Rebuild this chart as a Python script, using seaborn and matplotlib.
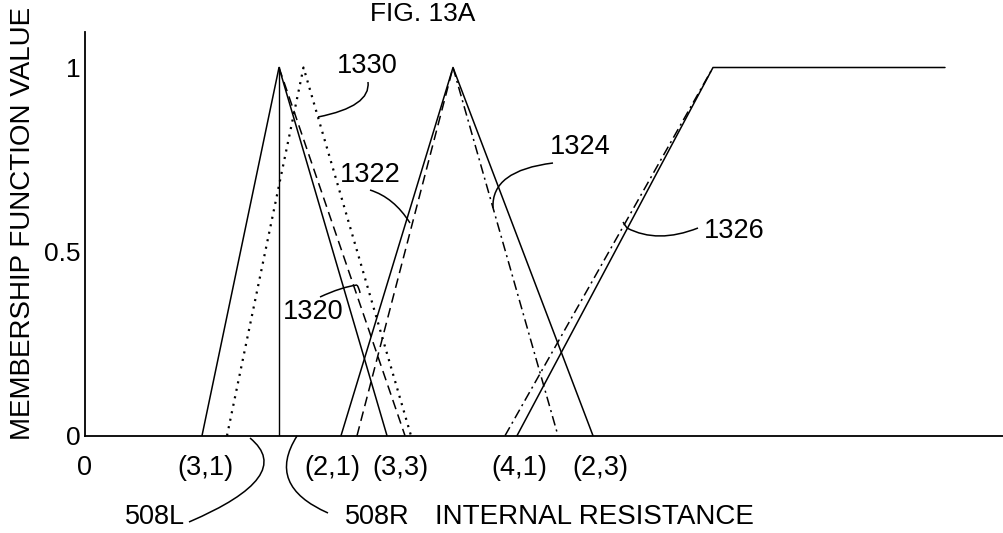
import numpy as np
import pandas as pd
import matplotlib
matplotlib.use("Agg")
from matplotlib import pyplot as plt
from matplotlib.path import Path
from matplotlib.patches import PathPatch
import seaborn as sns

sns.set_theme(style="white")
plt.rcParams["font.family"] = ["Liberation Sans", "DejaVu Sans"]
plt.rcParams["lines.scale_dashes"] = False

# membership functions (x in internal-resistance units, y = membership value)
solid_x = [[11.7, 19.4, 30.2], [25.6, 36.8, 50.8], [43.2, 62.8, 86.0]]
solid_y = [[0, 1, 0], [0, 1, 0], [0, 1, 1]]
dashed_x = [[19.4, 32.0], [27.2, 36.8]]
dashed_y = [[1, 0], [0, 1]]
dashdot_x = [[36.8, 47.3], [42.0, 62.8]]
dashdot_y = [[1, 0], [0, 1]]
dotted_x = [[14.2, 21.85, 32.6]]
dotted_y = [[0, 1, 0]]
marker_x = [19.4, 19.4]
marker_y = [0, 1]

tick_pos = [0, 12.0, 24.7, 31.5, 43.4, 51.5]
tick_lab = ["0", "(3,1)", "(2,1)", "(3,3)", "(4,1)", "(2,3)"]


def to_frame(xs, ys):
    rows = []
    for i, (sx, sy) in enumerate(zip(xs, ys)):
        for a, b in zip(sx, sy):
            rows.append({"x": a, "y": b, "seg": i})
    return pd.DataFrame(rows)


W, H = 1004, 533
fig = plt.figure(figsize=(W / 100, H / 100), dpi=100)
ax = fig.add_axes([85 / W, (H - 435.7) / H, (W - 85) / W, 403.7 / H])

styles = [
    (solid_x, solid_y, "-", 1.1),
    (dashed_x, dashed_y, (0, (7, 4)), 1.1),
    (dashdot_x, dashdot_y, (0, (7, 3, 1.5, 3)), 1.1),
    (dotted_x, dotted_y, (0, (1.5, 4)), 1.6),
]
for xs, ys, ls, lw in styles:
    d = to_frame(xs, ys)
    sns.lineplot(data=d, x="x", y="y", units="seg", estimator=None, sort=False,
                 color="black", lw=lw, linestyle=ls, ax=ax)
sns.lineplot(x=marker_x, y=marker_y, sort=False, estimator=None, color="black", lw=1.0, ax=ax)

ax.set_xlim(0, (W - 85) / 10)
ax.set_ylim(0, 403.7 / 368.2)
ax.set_xticks(tick_pos)
ax.set_xticklabels(tick_lab)
ax.set_yticks([0, 0.5, 1])
ax.set_yticklabels(["0", "0.5", "1"])
ax.tick_params(axis="x", length=0, pad=14, labelsize=19.5, colors="black")
ax.tick_params(axis="y", length=0, pad=3, labelsize=19, colors="black")
ax.set_xlabel("")
ax.set_ylabel("")
for s in ["top", "right"]:
    ax.spines[s].set_visible(False)
for s in ["left", "bottom"]:
    ax.spines[s].set_color("black")
    ax.spines[s].set_linewidth(1.3)


def px(x, y):
    return (x / W, 1 - y / H)


def txt(x, y, s, size=19.5, **kw):
    fig.text(*px(x, y), s, ha="center", va="center", fontsize=size, color="black", **kw)


def leader(p0, mid, p1):
    c = (2 * mid[0] - (p0[0] + p1[0]) / 2, 2 * mid[1] - (p0[1] + p1[1]) / 2)
    verts = [px(*p0), px(*c), px(*p1)]
    path = Path(verts, [Path.MOVETO, Path.CURVE3, Path.CURVE3])
    fig.add_artist(PathPatch(path, fill=False, lw=1.1, color="black",
                             transform=fig.transFigure))


txt(423, 14, "FIG. 13A", size=19)
txt(23, 223, "MEMBERSHIP FUNCTION VALUE", size=20, rotation=90)
txt(594, 517, "INTERNAL RESISTANCE", size=20)
txt(155, 517, "508L")
txt(377, 517, "508R")
txt(367, 66, "1330")
txt(370, 175, "1322")
txt(313, 312, "1320")
txt(580, 147, "1324")
txt(734, 231, "1326")

leader((368, 82), (357, 103), (318, 117))
leader((370, 190), (392, 202), (410, 223))
leader((320, 297), (340, 289), (357, 285))
leader((357, 285), (359, 289), (360, 293))
leader((553, 163), (507, 178), (493, 208))
leader((698, 228), (660, 236), (627, 228))
leader((627, 228), (625, 225), (623, 222))
leader((189, 522), (258, 478), (250, 438))
leader((328, 513), (289, 480), (297, 436))

fig.savefig("out.png", dpi=100)
